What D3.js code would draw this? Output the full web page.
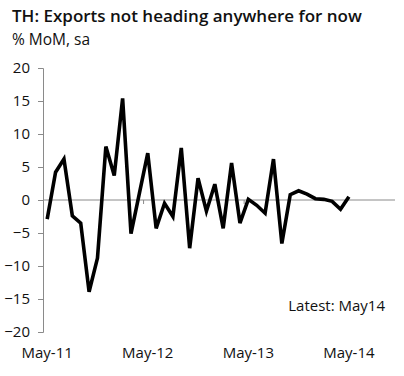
<!DOCTYPE html>
<html>
<head>
<meta charset="utf-8">
<script src="https://cdn.jsdelivr.net/npm/d3@7"></script>
<style>
  body { margin: 0; background: #fff; }
  svg text { font-family: "Open Sans", "Noto Sans", sans-serif; fill: #111; }
</style>
</head>
<body>
<div id="chart"></div>
<script>
// Data: monthly export growth, May-11 .. May-14
const months = d3.range(37).map(i => {
    const d = new Date(2011, 4 + i, 1);
    return d3.timeFormat("%b-%y")(d);
});
const values = [
    -2.9, 4.2, 6.2, -2.4, -3.5, -13.9, -8.8, 8.1, 3.7, 15.4,
    -5.1, 1.0, 7.1, -4.3, -0.5, -2.5, 7.9, -7.3, 3.3, -1.7,
    2.4, -4.3, 5.6, -3.5, 0.1, -0.8, -2.0, 6.2, -6.6, 0.8,
    1.4, 0.9, 0.2, 0.1, -0.2, -1.4, 0.5
];
const yTicks = [20, 15, 10, 5, 0, -5, -10, -15, -20];
const xLabelIdx = [0, 12, 24, 36];
const xTickIdx = [11.5, 23.5, 35.5];
const nCategories = 42;

const W = 404, H = 376;
const svg = d3.select("#chart").append("svg")
    .attr("width", W)
    .attr("height", H);

// Scales
const x = d3.scaleLinear().domain([-0.5, nCategories - 0.5]).range([43, 395]);
const y = d3.scaleLinear().domain([-20, 20]).range([332, 68]);

// Title
svg.append("text")
    .attr("x", 12).attr("y", 22)
    .style("font-size", "17px")
    .style("font-weight", "600")
    .text("TH: Exports not heading anywhere for now");

svg.append("text")
    .attr("x", 12).attr("y", 45)
    .style("font-size", "15.5px")
    .text("% MoM, sa");

// Y axis
const yAxis = d3.axisLeft(y).tickValues(yTicks).tickSize(5).tickPadding(8);
const gy = svg.append("g")
    .attr("transform", `translate(${x(-0.5)},0)`)
    .call(yAxis);
gy.select(".domain").attr("stroke", "#8a8a8a");
gy.selectAll(".tick line").attr("stroke", "#8a8a8a");
gy.selectAll(".tick text")
    .style("font-size", "15px")
    .attr("fill", "#111");

// Zero line with year ticks
svg.append("line")
    .attr("x1", x(-0.5)).attr("x2", x(nCategories - 0.5))
    .attr("y1", y(0)).attr("y2", y(0))
    .attr("stroke", "#8a8a8a");

svg.selectAll(".xtick")
    .data(xTickIdx)
    .enter().append("line")
    .attr("class", "xtick")
    .attr("x1", d => x(d)).attr("x2", d => x(d))
    .attr("y1", y(0)).attr("y2", y(0) + 4)
    .attr("stroke", "#8a8a8a");

// X labels
svg.selectAll(".xlabel")
    .data(xLabelIdx)
    .enter().append("text")
    .attr("class", "xlabel")
    .attr("x", d => x(d))
    .attr("y", 358)
    .attr("text-anchor", "middle")
    .style("font-size", "15px")
    .text(d => months[d]);

// Line
const line = d3.line()
    .x((d, i) => x(i))
    .y(d => y(d));

svg.append("path")
    .datum(values)
    .attr("fill", "none")
    .attr("stroke", "#000")
    .attr("stroke-width", 3.6)
    .attr("stroke-linejoin", "miter")
    .attr("d", line);

// Note
svg.append("text")
    .attr("x", 385).attr("y", 311)
    .attr("text-anchor", "end")
    .style("font-size", "15px")
    .text("Latest: May14");
</script>
</body>
</html>
